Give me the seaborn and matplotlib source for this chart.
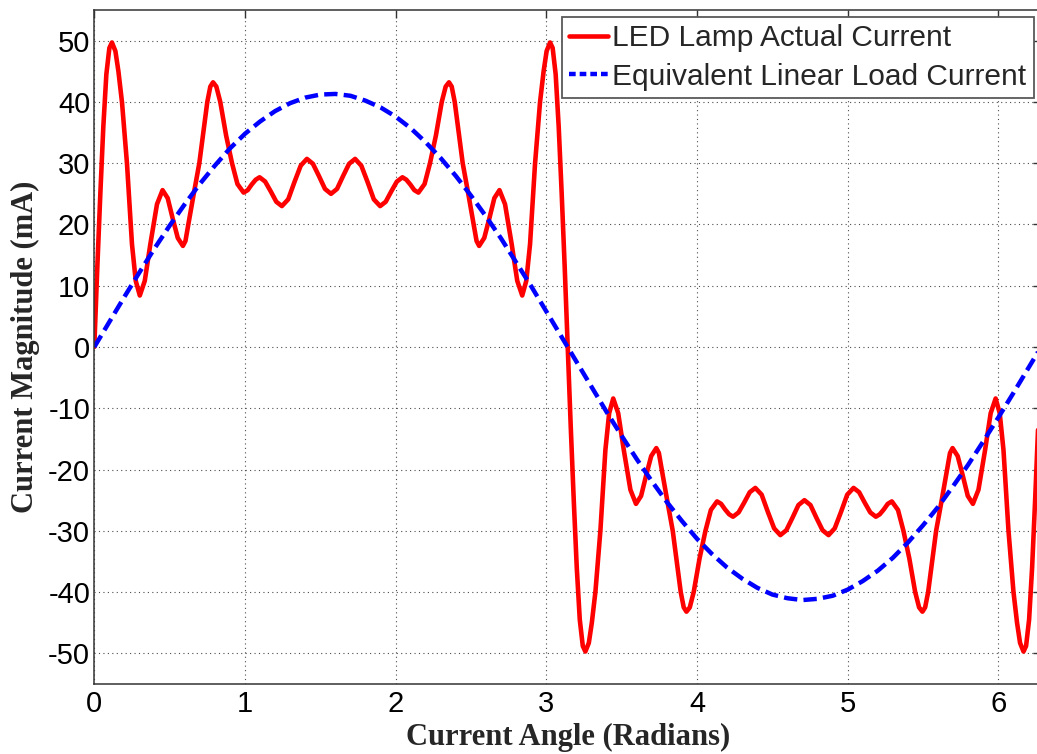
import matplotlib
matplotlib.use("Agg")
import matplotlib.pyplot as plt
import seaborn as sns
from matplotlib.lines import Line2D

# ---------------- data ----------------
led_angle = [
    0.000, 0.020, 0.040, 0.060, 0.080, 0.100, 0.117, 0.140, 0.160, 0.184,
    0.217, 0.250, 0.275, 0.302, 0.335, 0.372, 0.416, 0.453, 0.487, 0.520,
    0.554, 0.588, 0.605, 0.624, 0.660, 0.697, 0.750, 0.770, 0.788, 0.810,
    0.836, 0.875, 0.914, 0.950, 0.991, 1.018, 1.044, 1.071, 1.097, 1.134,
    1.171, 1.208, 1.245, 1.287, 1.328, 1.370, 1.411, 1.451, 1.491, 1.531,
    1.571, 1.611, 1.651, 1.691, 1.731, 1.772, 1.814, 1.855, 1.897, 1.934,
    1.971, 2.008, 2.045, 2.071, 2.098, 2.124, 2.151, 2.192, 2.228, 2.267,
    2.306, 2.332, 2.354, 2.372, 2.392, 2.445, 2.482, 2.518, 2.537, 2.554,
    2.588, 2.622, 2.655, 2.689, 2.726, 2.770, 2.807, 2.840, 2.867, 2.892,
    2.925, 2.958, 2.982, 3.002, 3.025, 3.042, 3.062, 3.082, 3.102, 3.122,
    3.142,
    3.162, 3.182, 3.202, 3.222, 3.242, 3.259, 3.282, 3.302, 3.326, 3.359,
    3.392, 3.417, 3.444, 3.477, 3.514, 3.558, 3.595, 3.629, 3.662, 3.696,
    3.730, 3.747, 3.766, 3.802, 3.839, 3.892, 3.912, 3.930, 3.952, 3.978,
    4.017, 4.056, 4.092, 4.133, 4.160, 4.186, 4.213, 4.239, 4.276, 4.313,
    4.350, 4.387, 4.429, 4.470, 4.512, 4.553, 4.593, 4.633, 4.673, 4.713,
    4.753, 4.793, 4.833, 4.873, 4.914, 4.956, 4.997, 5.039, 5.076, 5.113,
    5.150, 5.187, 5.213, 5.240, 5.266, 5.293, 5.334, 5.370, 5.409, 5.448,
    5.474, 5.496, 5.514, 5.534, 5.587, 5.624, 5.660, 5.679, 5.696, 5.730,
    5.764, 5.797, 5.831, 5.868, 5.912, 5.949, 5.982, 6.009, 6.034, 6.067,
    6.100, 6.124, 6.144, 6.167, 6.184, 6.204, 6.224, 6.244, 6.264, 6.284,
]
led_current = [
    0.0, 13.0, 25.0, 36.0, 44.5, 48.8, 49.7, 48.3, 45.0, 39.9,
    29.9, 16.8, 10.8, 8.4, 10.8, 16.8, 23.3, 25.6, 24.3, 21.0,
    17.8, 16.5, 17.3, 20.0, 25.0, 30.0, 40.0, 42.5, 43.2, 42.5,
    40.0, 34.5, 30.0, 26.6, 25.2, 25.6, 26.5, 27.3, 27.7, 27.0,
    25.4, 23.7, 23.0, 24.1, 26.9, 29.6, 30.7, 29.9, 27.9, 25.8,
    25.0, 25.8, 27.9, 29.9, 30.7, 29.6, 26.9, 24.1, 23.0, 23.7,
    25.4, 27.0, 27.7, 27.3, 26.5, 25.6, 25.2, 26.6, 30.0, 34.5,
    40.0, 42.5, 43.2, 42.5, 40.0, 30.0, 25.0, 20.0, 17.3, 16.5,
    17.8, 21.0, 24.3, 25.6, 23.3, 16.8, 10.8, 8.4, 10.8, 16.8,
    29.9, 39.9, 45.0, 48.3, 49.7, 48.8, 44.5, 36.0, 25.0, 13.0,
    0.0,
    -13.0, -25.0, -36.0, -44.5, -48.8, -49.7, -48.3, -45.0, -39.9, -29.9,
    -16.8, -10.8, -8.4, -10.8, -16.8, -23.3, -25.6, -24.3, -21.0, -17.8,
    -16.5, -17.3, -20.0, -25.0, -30.0, -40.0, -42.5, -43.2, -42.5, -40.0,
    -34.5, -30.0, -26.6, -25.2, -25.6, -26.5, -27.3, -27.7, -27.0, -25.4,
    -23.7, -23.0, -24.1, -26.9, -29.6, -30.7, -29.9, -27.9, -25.8, -25.0,
    -25.8, -27.9, -29.9, -30.7, -29.6, -26.9, -24.1, -23.0, -23.7, -25.4,
    -27.0, -27.7, -27.3, -26.5, -25.6, -25.2, -26.6, -30.0, -34.5, -40.0,
    -42.5, -43.2, -42.5, -40.0, -30.0, -25.0, -20.0, -17.3, -16.5, -17.8,
    -21.0, -24.3, -25.6, -23.3, -16.8, -10.8, -8.4, -10.8, -16.8, -29.9,
    -39.9, -45.0, -48.3, -49.7, -48.8, -44.5, -36.0, -25.0, -13.0, 0.0,
]

linear_angle = [
    0.0, 0.1, 0.2, 0.3, 0.4, 0.5, 0.6, 0.7, 0.8, 0.9,
    1.0, 1.1, 1.2, 1.3, 1.4, 1.5, 1.6, 1.7, 1.8, 1.9,
    2.0, 2.1, 2.2, 2.3, 2.4, 2.5, 2.6, 2.7, 2.8, 2.9,
    3.0, 3.1, 3.2, 3.3, 3.4, 3.5, 3.6, 3.7, 3.8, 3.9,
    4.0, 4.1, 4.2, 4.3, 4.4, 4.5, 4.6, 4.7, 4.8, 4.9,
    5.0, 5.1, 5.2, 5.3, 5.4, 5.5, 5.6, 5.7, 5.8, 5.9,
    6.0, 6.1, 6.2, 6.283,
]
linear_current = [
    0.0, 4.1, 8.2, 12.2, 16.1, 19.8, 23.3, 26.6, 29.6, 32.4,
    34.8, 36.8, 38.5, 39.8, 40.7, 41.2, 41.3, 41.0, 40.2, 39.1,
    37.6, 35.7, 33.4, 30.8, 27.9, 24.7, 21.3, 17.7, 13.8, 9.9,
    5.8, 1.7, -2.4, -6.5, -10.6, -14.5, -18.3, -21.9, -25.3, -28.4,
    -31.3, -33.8, -36.0, -37.8, -39.3, -40.4, -41.0, -41.3, -41.1, -40.6,
    -39.6, -38.2, -36.5, -34.4, -31.9, -29.1, -26.1, -22.7, -19.2, -15.4,
    -11.5, -7.5, -3.4, 0.0,
]

x_ticks = [0, 1, 2, 3, 4, 5, 6]
y_ticks = [-50, -40, -30, -20, -10, 0, 10, 20, 30, 40, 50]
series_labels = ["LED Lamp Actual Current", "Equivalent Linear Load Current"]
x_label = "Current Angle (Radians)"
y_label = "Current Magnitude (mA)"

# ---------------- styling ----------------
sns.set_style("white")
plt.rcParams['font.family'] = ['Liberation Sans', 'DejaVu Sans']
plt.rcParams['axes.unicode_minus'] = False

W, H = 1037, 754
fig = plt.figure(figsize=(W / 100, H / 100), dpi=100)
ax_left, ax_right, ax_top, ax_bottom = 94.3, 1041.0, 10.0, 684.0
ax = fig.add_axes([ax_left / W, 1 - ax_bottom / H,
                   (ax_right - ax_left) / W, (ax_bottom - ax_top) / H])

red = '#ff0000'
blue = '#0000ff'

sns.lineplot(x=led_angle, y=led_current, ax=ax, color=red, linewidth=3.3,
             sort=False, estimator=None, legend=False)
sns.lineplot(x=linear_angle, y=linear_current, ax=ax, color=blue, linewidth=3.2,
             sort=False, estimator=None, legend=False)
ax.lines[0].set_solid_joinstyle('round')
ax.lines[1].set_dashes([3.0, 1.4])
ax.lines[1].set_dash_capstyle('butt')

ax.set_xlim(0, 6.283)
ax.set_ylim(-55, 55)
ax.set_xticks(x_ticks)
ax.set_yticks(y_ticks)

ax.set_axisbelow(True)
ax.grid(True, linestyle=(0, (1, 3)), color='0.3', linewidth=0.8)

spine_c = '0.2'
for s in ax.spines.values():
    s.set_color(spine_c)
    s.set_linewidth(1.1)
    s.set_visible(True)

ax.tick_params(axis='both', direction='in', length=6, width=1.0,
               colors=spine_c, labelcolor='black', labelsize=21,
               top=True, right=True)
ax.tick_params(axis='x', pad=4)
ax.tick_params(axis='y', pad=3)

label_font = dict(family=['Liberation Serif', 'DejaVu Serif'],
                  fontweight='bold', fontsize=22)
ax.set_xlabel(x_label, **label_font)
ax.set_ylabel(y_label, **label_font)
ax.xaxis.set_label_coords(0.5, -0.058)
ax.yaxis.set_label_coords(-0.0578, (ax_bottom - 347.0) / (ax_bottom - ax_top))

handles = [
    Line2D([], [], color=red, linewidth=3.3),
    Line2D([], [], color=blue, linewidth=3.2, dashes=[1.5, 0.9]),
]
leg = ax.legend(handles, series_labels, loc='upper right',
                bbox_to_anchor=(1034 / W, 1 - 17 / H),
                bbox_transform=fig.transFigure, borderaxespad=0,
                fontsize=21.5, handlelength=1.3, handletextpad=0.15,
                borderpad=0.25, labelspacing=0.35, fancybox=False,
                framealpha=1.0, edgecolor='0.35')
leg.get_frame().set_linewidth(1.3)

fig.savefig('out.png', dpi=100)
